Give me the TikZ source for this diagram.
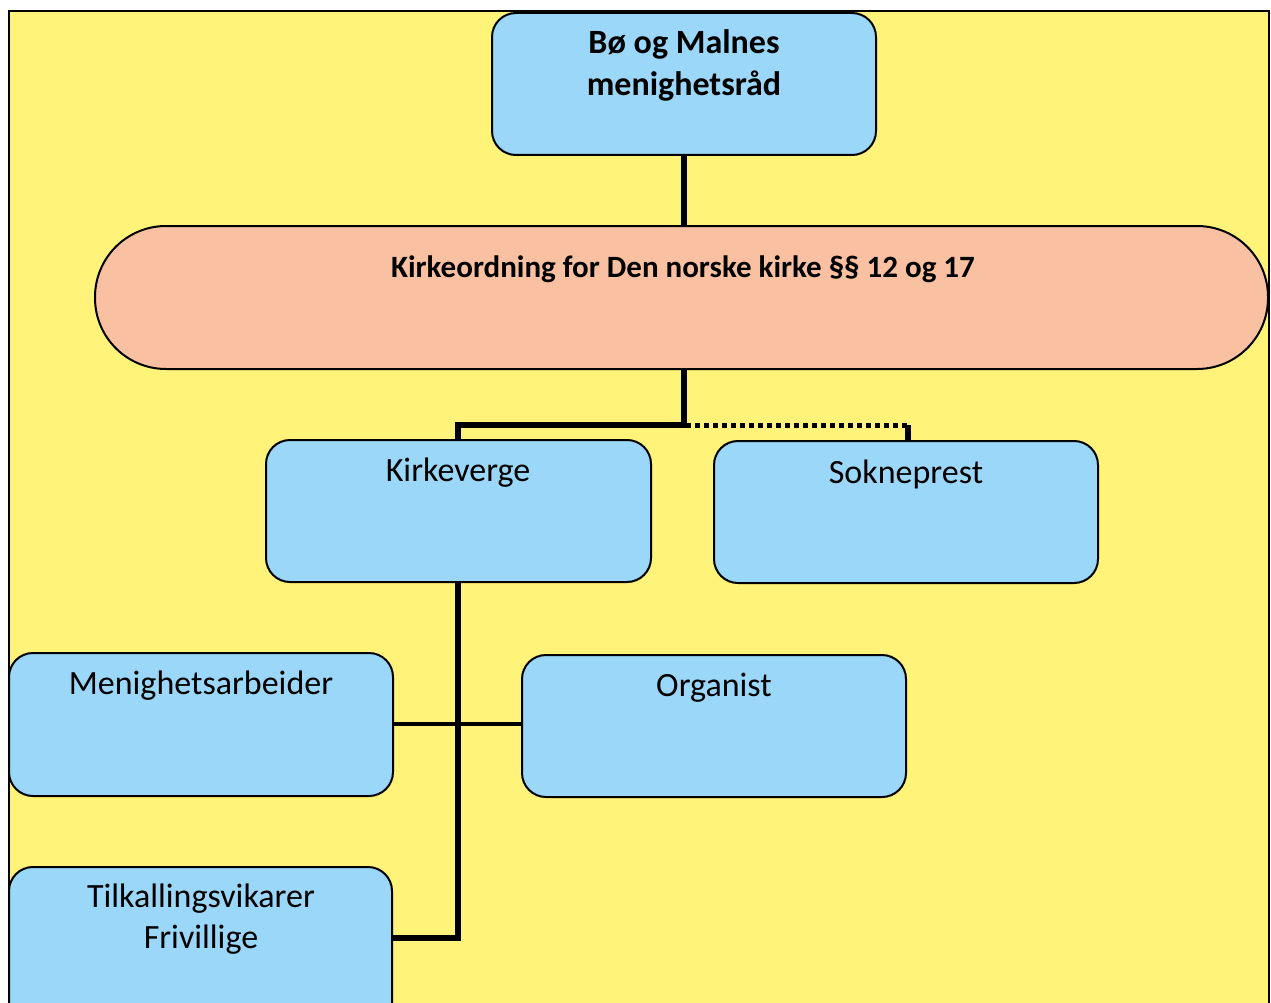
\documentclass[tikz,border=0pt]{standalone}
\usepackage{fontspec}
\setmainfont{Carlito}
\definecolor{bgyellow}{RGB}{255,243,122}
\definecolor{boxblue}{RGB}{155,215,249}
\definecolor{pillsalmon}{RGB}{249,193,162}
\tikzset{
  bluebox/.style={draw=black, line width=2pt, fill=boxblue, rounded corners=24pt},
  boxtext/.style={font=\fontsize{34}{41}\selectfont, anchor=center, inner sep=0pt, align=center},
  boldtext/.style={font=\bfseries\fontsize{34}{42}\selectfont, anchor=center, inner sep=0pt, align=center},
  pilltext/.style={font=\bfseries\fontsize{31}{40}\selectfont, anchor=center, inner sep=0pt, align=center},
  conn/.style={line width=5.5pt},
  dotconn/.style={line width=5pt, dash pattern=on 5pt off 4pt}
}
\begin{document}
\begin{tikzpicture}[x=1pt,y=-1pt]
\useasboundingbox (0,0) rectangle (1271,1003);
\clip (0,0) rectangle (1271,1003);
\fill[white] (0,0) rectangle (1271,1003);
\draw[fill=bgyellow, line width=2pt] (9,11) rectangle (1269,1020);
% boxes
\draw[bluebox] (492,13) rectangle (876,155);
\node[boldtext] (top) at (684,65) {Bø og Malnes\\menighetsråd};
\coordinate (topS) at (684,155);
\draw[fill=pillsalmon, line width=2pt, rounded corners=71pt] (95,226) rectangle (1268,369);
\node[pilltext] (pill) at (683,269) {Kirkeordning for Den norske kirke §§ 12 og 17};
\coordinate (pillN) at (684,226);
\coordinate (pillS) at (684,369);
\draw[bluebox] (266,440) rectangle (651,582);
\node[boxtext] (kv) at (458,473) {Kirkeverge};
\coordinate (kvN) at (458,440);
\coordinate (kvS) at (458,582);
\draw[bluebox] (714,441) rectangle (1098,583);
\node[boxtext] (sp) at (906,474) {Sokneprest};
\coordinate (spN) at (908,441);
\draw[bluebox] (9,653) rectangle (393,796);
\node[boxtext] (ma) at (201,686) {Menighetsarbeider};
\coordinate (maE) at (393,724);
\draw[bluebox] (522,655) rectangle (906,797);
\node[boxtext] (org) at (714,688) {Organist};
\coordinate (orgW) at (522,724);
\draw[bluebox] (9,867) rectangle (392,1030);
\node[boxtext] (tv) at (201,919) {Tilkallingsvikarer\\Frivillige};
\coordinate (tvE) at (392,938);
% connectors
\draw[conn] (topS) -- (pillN);
\draw[conn] (pillS) -- (684,425) -- (458,425) -- (kvN);
\draw[dotconn] (686,425) -- (908,425);
\draw[conn] (908,425) -- (spN);
\draw[conn] (kvS) -- (458,938) -- (tvE);
\draw[line width=4.5pt] (maE) -- (orgW);
\end{tikzpicture}
\end{document}
